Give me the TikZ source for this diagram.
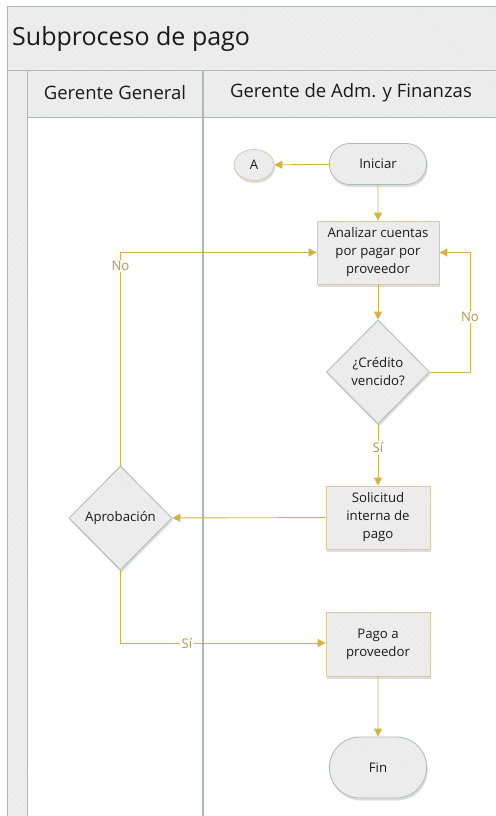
\documentclass[tikz,border=0pt]{standalone}
\usepackage{fontspec}
\setmainfont{Open Sans}
\usetikzlibrary{arrows.meta,shapes.geometric,shapes.misc,shadows,patterns.meta}
\definecolor{lanefill}{HTML}{EBEBEB}
\definecolor{hatch}{HTML}{F1F1F1}
\definecolor{laneline}{HTML}{A9BBB6}
\definecolor{flow}{HTML}{D4B441}
\definecolor{flowtext}{HTML}{B09A45}
\definecolor{boxline}{HTML}{D5CBA9}
\definecolor{ink}{HTML}{1A1A1A}
\tikzset{
  hatched/.style={preaction={fill=lanefill},preaction={pattern={Lines[angle=-45,distance=4.5pt,line width=0.7pt]},pattern color=hatch}},
  shade/.style={drop shadow={shadow xshift=1pt,shadow yshift=-2.5pt,opacity=0.22,fill=black!60}},
  nodefont/.style={font=\fontsize{13.2}{18}\selectfont,text=ink},
  procbox/.style={shade,hatched,draw=boxline,line width=0.8pt,minimum width=122pt,minimum height=63pt,
    align=center,nodefont,inner sep=2pt},
  startend/.style={shade,hatched,draw=laneline,line width=0.8pt,rounded rectangle,
    minimum width=104pt,minimum height=41pt,nodefont},
  decision/.style={shade,hatched,draw=laneline,line width=0.8pt,diamond,aspect=1,
    minimum width=103pt,minimum height=104pt,inner sep=0pt,align=center,nodefont},
  offpage/.style={shade,hatched,draw=boxline,line width=0.8pt,ellipse,minimum width=40pt,minimum height=31pt,
    inner sep=0pt,nodefont},
  flowline/.style={draw=flow,line width=0.9pt,-{Triangle[length=8pt,width=8pt]}},
  flowlabel/.style={fill=white,text=flowtext,inner sep=1.5pt,font=\fontsize{13.2}{15}\selectfont},
}
\begin{document}
\begin{tikzpicture}[x=1pt,y=-1pt]
\useasboundingbox (0,0) rectangle (495,816);
\fill[white] (0,0) rectangle (495,816);
% pool: title band, left strip and lane headers
\path[hatched] (7,7) rectangle (500,70);
\path[hatched] (7,70) rectangle (27,830);
\path[hatched] (27,70) rectangle (500,117);
\draw[laneline,line width=1pt] (500,7) -- (7,7) -- (7,830);
\draw[laneline,line width=1pt] (7,70) -- (500,70);
\draw[laneline,line width=1pt] (27,117) -- (500,117);
\draw[laneline,line width=1pt] (27,70) -- (27,830);
\draw[laneline,line width=1.2pt] (203,70) -- (203,830);
\node[anchor=west,text=ink,font=\fontsize{25}{28}\selectfont,inner sep=0pt] (title) at (12,39) {Subproceso de pago};
\node[text=ink,font=\fontsize{18.5}{21}\selectfont,inner sep=0pt] (laneA) at (115,93) {Gerente General};
\node[text=ink,font=\fontsize{18.5}{21}\selectfont,inner sep=0pt] (laneB) at (351,93) {Gerente de Adm. y Finanzas};

% flow nodes
\node[offpage] (a) at (254,165) {A};
\node[startend] (start) at (378,164) {Iniciar};
\node[procbox] (analizar) at (378,252.5) {Analizar cuentas\\por pagar por\\proveedor};
\node[decision] (credito) at (378,372) {¿Crédito\\vencido?};
\node[procbox,minimum width=104pt] (solicitud) at (378,517.5) {Solicitud\\interna de\\pago};
\node[decision] (aprob) at (120.5,518) {Aprobación};
\node[procbox,minimum width=104pt,minimum height=64pt] (pago) at (378,644) {Pago a\\proveedor};
\node[startend,minimum height=61pt] (fin) at (378,767.5) {Fin};

% connectors
\draw[flowline] (start) -- (a);
\draw[flowline] (start) -- (analizar);
\draw[flowline] (analizar) -- (credito);
\draw[flowline] (credito.east) -- (470,372) -- (470,252.5) -- (analizar.east);
\node[flowlabel] (no1) at (470,317) {No};
\draw[flowline] (credito) -- (solicitud);
\node[flowlabel] (si1) at (378,448) {Sí};
\draw[flowline] (solicitud) -- (aprob);
\draw[flowline] (aprob.north) -- (120.5,252.5) -- (analizar.west);
\node[flowlabel] (no2) at (120.5,266) {No};
\draw[flowline] (aprob.south) -- (120.5,643) -- (pago.west |- 0,643);
\node[flowlabel] (si2) at (187,643) {Sí};
\draw[flowline] (pago) -- (fin);
\end{tikzpicture}
\end{document}
